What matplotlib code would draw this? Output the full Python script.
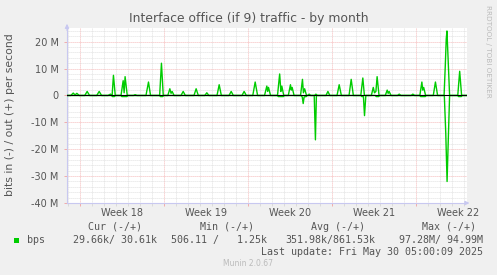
import matplotlib
matplotlib.use("Agg")
import matplotlib.pyplot as plt
import matplotlib.transforms as mtransforms
from matplotlib.patches import Rectangle
from matplotlib.ticker import MultipleLocator, FuncFormatter

# ---------------- data (days since Mon 2025-04-28 00:00, values in Mbit/s) -------------
out_t = [-1.12, -0.8, -0.6, -0.45, -0.3, -0.1, 0.36, 0.56, 0.76, 1.36, 1.56, 1.76,
         2.3, 2.5, 2.62, 2.64, 2.75, 2.9, 3.38, 3.56, 3.64, 3.72, 3.9, 4.42, 4.56, 4.7,
         5.46, 5.67, 5.84, 6.6, 6.75, 6.9, 7.28, 7.45, 7.55, 7.64, 7.8, 8.38, 8.56, 8.74,
         9.46, 9.64, 9.82, 10.36, 10.53, 10.7, 11.38, 11.56, 11.74, 12.38, 12.56, 12.74,
         13.46, 13.64, 13.82, 14.36, 14.56, 14.76, 15.34, 15.53, 15.6, 15.67, 15.84,
         16.42, 16.6, 16.7, 16.78, 16.94, 17.32, 17.5, 17.57, 17.64, 17.8,
         18.34, 18.5, 18.58, 18.68, 18.84, 18.94, 19.06, 19.18, 19.51, 19.62, 19.74,
         20.46, 20.62, 20.78, 21.38, 21.56, 21.74, 22.38, 22.56, 22.74, 23.36, 23.53, 23.66,
         24.24, 24.4, 24.5, 24.62, 24.72, 24.88, 25.4, 25.56, 25.64, 25.72, 25.88,
         26.42, 26.56, 26.7, 27.56, 27.7, 27.84, 28.28, 28.45, 28.52, 28.6, 28.76,
         29.4, 29.58, 29.76, 30.3, 30.4, 30.48, 30.54, 30.62, 30.76, 31.44, 31.6, 31.76, 32.21]
out_v = [0.0, 0.0, 0.9, 0.2, 0.8, 0.0, 0.0, 1.5, 0.0, 0.0, 1.5, 0.0,
         0.0, 0.5, 0.0, 0.0, 7.5, 0.0, 0.0, 5.5, 1.0, 7.0, 0.0, 0.0, 0.3, 0.0,
         0.0, 5.0, 0.0, 0.0, 12.0, 0.0, 0.0, 2.5, 0.8, 1.5, 0.0, 0.0, 1.5, 0.0,
         0.0, 2.5, 0.0, 0.0, 1.0, 0.0, 0.0, 4.0, 0.0, 0.0, 1.5, 0.0,
         0.0, 1.5, 0.0, 0.0, 5.0, 0.0, 0.0, 3.5, 1.5, 3.0, 0.0,
         0.0, 8.0, 1.5, 3.5, 0.0, 0.0, 4.0, 2.0, 3.0, 0.0,
         0.0, 6.0, 1.0, 2.5, 0.0, 0.0, 0.5, 0.0, 0.0, 0.5, 0.0,
         0.0, 1.5, 0.0, 0.0, 4.0, 0.0, 0.0, 6.0, 0.0, 0.0, 6.5, 0.0,
         0.0, 3.0, 1.0, 1.5, 7.0, 0.0, 0.0, 2.0, 0.8, 1.5, 0.0,
         0.0, 0.5, 0.0, 0.0, 0.5, 0.0, 0.0, 5.0, 2.0, 3.0, 0.0,
         0.0, 5.0, 0.0, 0.0, 11.0, 21.0, 24.0, 15.0, 0.0, 0.0, 9.0, 0.0, 0.0]

in_t = [-1.12, 2.6, 2.66, 2.84, 2.9, 3.38, 3.44, 3.88, 3.94, 6.6, 6.66, 6.86, 6.92,
        16.42, 16.48, 16.92, 16.98, 18.36, 18.48, 18.56, 18.64, 18.82, 18.88,
        19.48, 19.58, 19.66, 23.38, 23.44, 23.58, 23.67, 23.78,
        24.58, 24.64, 24.86, 24.92, 28.28, 28.34, 28.74, 28.8,
        30.32, 30.44, 30.55, 30.64, 30.76, 31.44, 31.5, 31.74, 31.8, 32.21]
in_v = [0.0, 0.0, -0.4, -0.4, 0.0, 0.0, -0.4, -0.4, 0.0, 0.0, -0.4, -0.4, 0.0,
        0.0, -0.4, -0.4, 0.0, 0.0, -0.5, -3.0, -0.5, -0.4, 0.0,
        0.0, -16.5, 0.0, 0.0, -0.4, -0.4, -7.5, 0.0,
        0.0, -0.4, -0.4, 0.0, 0.0, -0.4, -0.4, 0.0,
        0.0, -14.0, -32.0, -18.0, 0.0, 0.0, -0.4, -0.4, 0.0, 0.0]

week_starts = [0, 7, 14, 21, 28]
week_labels = ["Week 18", "Week 19", "Week 20", "Week 21", "Week 22"]

leg_headers = ["Cur (-/+)", "Min (-/+)", "Avg (-/+)", "Max (-/+)"]
leg_values = ["29.66k/ 30.61k", "506.11 /   1.25k", "351.98k/861.53k", "97.28M/ 94.99M"]
series_name = "bps"
last_update = "Last update: Fri May 30 05:00:09 2025"
title = "Interface office (if 9) traffic - by month"
ylabel = "bits in (-) / out (+) per second"

# ---------------- figure ----------------
W, H = 497, 275
fig = plt.figure(figsize=(W / 100, H / 100), dpi=100, facecolor="#F0F0F0")
L, R, T, B = 67, 467, 28, 203
ax = fig.add_axes([L / W, 1 - B / H, (R - L) / W, (B - T) / H])
ax.set_facecolor("white")

def fx(x):
    return x / W

def fy(y):
    return 1 - y / H

green = "#00CC00"
ax.plot(out_t, out_v, color=green, lw=1.0, zorder=3)
ax.plot(in_t, in_v, color=green, lw=1.0, zorder=3)
ax.axhline(0, color="black", lw=0.8, zorder=4)

ax.set_xlim(-1.12, 32.21)
ax.set_ylim(-40, 25.1)

ax.xaxis.set_major_locator(MultipleLocator(7))
ax.xaxis.set_minor_locator(MultipleLocator(1))
ax.yaxis.set_major_locator(MultipleLocator(10))
ax.yaxis.set_minor_locator(MultipleLocator(2))
ax.yaxis.set_major_formatter(FuncFormatter(lambda v, p: "0" if abs(v) < 1e-9 else f"{int(round(v))} M"))
ax.set_xticklabels([])

ax.grid(which="major", color="#F2A0A0", lw=0.6, linestyle=(0, (1, 1.4)), zorder=1)
ax.grid(which="minor", color="#D6D6D6", lw=0.6, linestyle=(0, (1, 1.4)), zorder=0)
ax.set_axisbelow(True)

ax.tick_params(axis="y", which="major", length=2, width=0.6, color="#F2A0A0",
               labelsize=7, labelcolor="#555555", pad=4)
ax.tick_params(axis="y", which="minor", length=0)
ax.tick_params(axis="x", which="major", length=2, width=0.6, color="#F2A0A0")
ax.tick_params(axis="x", which="minor", length=2, width=0.6, color="#D6D6D6")

axis_col = "#C8C8F0"
for s in ["top", "right"]:
    ax.spines[s].set_visible(False)
for s in ["left", "bottom"]:
    ax.spines[s].set_color(axis_col)
    ax.spines[s].set_linewidth(0.8)

# arrows
ax.annotate("", xy=(0, 1.04), xytext=(0, 0.97), xycoords="axes fraction",
            arrowprops=dict(arrowstyle="-|>", color=axis_col, lw=0.8, mutation_scale=6),
            annotation_clip=False)
ax.annotate("", xy=(1.013, 0), xytext=(0.99, 0), xycoords="axes fraction",
            arrowprops=dict(arrowstyle="-|>", color=axis_col, lw=0.8, mutation_scale=6),
            annotation_clip=False)

# week labels
trans = mtransforms.blended_transform_factory(ax.transData, ax.transAxes)
for ws, lab in zip(week_starts, week_labels):
    ax.text(ws + 3.5, -9.7 / (B - T), lab, transform=trans, ha="center", va="center",
            fontsize=7, color="#555555", clip_on=False)

# title / labels
fig.text(fx(248.5), fy(18.5), title, ha="center", va="center", fontsize=8.9, color="#555555")
fig.text(fx(10), fy(115), ylabel, ha="center", va="center", rotation=90, fontsize=7.8, color="#555555")
fig.text(fx(488), fy(5), "RRDTOOL / TOBI OETIKER", ha="center", va="top", rotation=270,
         fontsize=5.2, color="#BBBBBB")

# legend
mono = "DejaVu Sans Mono"
hdr_right = [142, 254, 365, 476]
val_right = [157.3, 266.7, 375, 482.7]
for h, xr in zip(leg_headers, hdr_right):
    fig.text(fx(xr), fy(226.7), h, ha="right", va="center", fontsize=7.2, family=mono, color="#555555")
for v, xr in zip(leg_values, val_right):
    fig.text(fx(xr), fy(240), v, ha="right", va="center", fontsize=7.2, family=mono, color="#555555")
fig.patches.append(Rectangle((fx(14), fy(242.5)), 5 / W, 5 / H, transform=fig.transFigure,
                             facecolor=green, edgecolor="none"))
fig.text(fx(26.7), fy(240), series_name, ha="left", va="center", fontsize=7.2, family=mono, color="#555555")
fig.text(fx(482.7), fy(251.7), last_update, ha="right", va="center", fontsize=7.2, family=mono, color="#555555")
fig.text(fx(248), fy(263.3), "Munin 2.0.67", ha="center", va="center", fontsize=5.5, color="#BBBBBB")

fig.savefig("out.png", dpi=100, facecolor=fig.get_facecolor())
